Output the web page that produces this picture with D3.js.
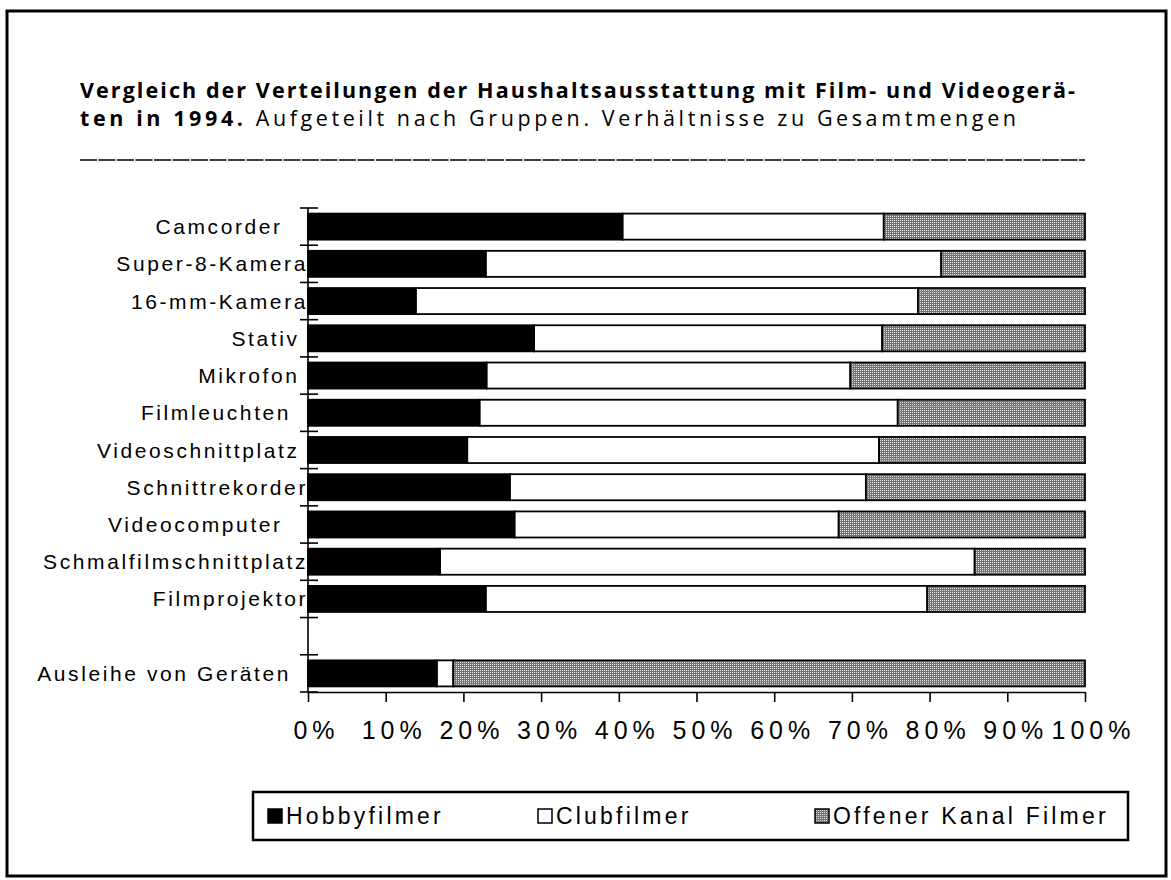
<!DOCTYPE html>
<html>
<head>
<meta charset="utf-8">
<script src="https://cdn.jsdelivr.net/npm/d3@7"></script>
<style>
  body { margin: 0; background: #fff; }
  svg { display: block; }
</style>
</head>
<body>
<div id="chart"></div>
<script>
// Data (percent of total per device)
const geraete = ["Camcorder", "Super-8-Kamera", "16-mm-Kamera", "Stativ", "Mikrofon",
    "Filmleuchten", "Videoschnittplatz", "Schnittrekorder", "Videocomputer",
    "Schmalfilmschnittplatz", "Filmprojektor", "Ausleihe von Geräten"];
const hobbyfilmer = [40.5, 22.9, 13.9, 29.1, 23.0, 22.1, 20.5, 26.0, 26.6, 17.0, 22.9, 16.6];
const clubfilmer  = [33.6, 58.6, 64.6, 44.8, 46.8, 53.8, 53.0, 45.8, 41.7, 68.8, 56.8, 2.1];
const offenerKanal = [25.9, 18.5, 21.5, 26.1, 30.2, 24.1, 26.5, 28.2, 31.7, 14.2, 20.3, 81.3];
const gruppen = ["Hobbyfilmer", "Clubfilmer", "Offener Kanal Filmer"];
const xTicks = [0, 10, 20, 30, 40, 50, 60, 70, 80, 90, 100];

const WIDTH = 1171;
const HEIGHT = 880;
const fontFamily = "'Liberation Sans', Arial, sans-serif";
const titleFont = "'Open Sans', sans-serif";

// trailing blanks the original labels carried (pushes them off the axis)
const labelTrail = { "Camcorder": 3, "Stativ": 1, "Mikrofon": 1, "Filmleuchten": 2,
    "Videoschnittplatz": 1, "Videocomputer": 3, "Ausleihe von Geräten": 2 };

const svg = d3.select("#chart").append("svg")
    .attr("width", WIDTH)
    .attr("height", HEIGHT);

// pattern for "Offener Kanal"
const defs = svg.append("defs");
const pat = defs.append("pattern")
    .attr("id", "dots")
    .attr("patternUnits", "userSpaceOnUse")
    .attr("width", 2)
    .attr("height", 2);
pat.append("rect").attr("width", 2).attr("height", 2).attr("fill", "#747474");
pat.append("rect").attr("width", 1).attr("height", 1).attr("fill", "#e0e0e0");

const fills = ["#000", "#fff", "url(#dots)"];

// outer frame
svg.append("rect")
    .attr("x", 7).attr("y", 11)
    .attr("width", 1159).attr("height", 865)
    .attr("fill", "none")
    .attr("stroke", "#000")
    .attr("stroke-width", 3);

// Title
svg.append("text")
    .attr("x", 80).attr("y", 98)
    .attr("font-family", titleFont)
    .attr("font-size", 21.5)
    .attr("font-weight", "bold")
    .attr("textLength", 995)
    .attr("lengthAdjust", "spacing")
    .text("Vergleich der Verteilungen der Haushaltsausstattung mit Film- und Videogerä-");

const sub = svg.append("text")
    .attr("x", 80).attr("y", 126)
    .attr("font-family", titleFont)
    .attr("font-size", 21.5)
    .attr("textLength", 936)
    .attr("lengthAdjust", "spacing");
sub.append("tspan").attr("font-weight", "bold").text("ten in 1994.");
sub.append("tspan").text(" Aufgeteilt nach Gruppen. Verhältnisse zu Gesamtmengen");

svg.append("line")
    .attr("x1", 80).attr("x2", 1085)
    .attr("y1", 160).attr("y2", 160)
    .attr("stroke", "#000")
    .attr("stroke-width", 1.6)
    .attr("stroke-dasharray", "17,1.5");

// Scales
const x = d3.scaleLinear().domain([0, 100]).range([308, 1085]);
const rows = geraete.slice(0, 11).concat([" "], geraete.slice(11));
const y = d3.scaleBand().domain(rows).range([208, 692]).paddingInner(0.3).paddingOuter(0.15);

const table = geraete.map((g, i) => ({
    geraet: g,
    Hobbyfilmer: hobbyfilmer[i],
    Clubfilmer: clubfilmer[i],
    "Offener Kanal Filmer": offenerKanal[i]
}));
const series = d3.stack().keys(gruppen)(table);

const plot = svg.append("g");
series.forEach((s, k) => {
    plot.append("g")
        .selectAll("rect")
        .data(s)
        .join("rect")
        .attr("x", d => x(d[0]))
        .attr("y", d => y(d.data.geraet))
        .attr("width", d => x(d[1]) - x(d[0]))
        .attr("height", y.bandwidth())
        .attr("fill", fills[k])
        .attr("stroke", "#000")
        .attr("stroke-width", 1.8);
});

// Y axis: line with crossing ticks at band boundaries
const step = y.step();
const y0 = 208;
svg.append("line")
    .attr("x1", 308).attr("x2", 308)
    .attr("y1", y0).attr("y2", y0 + step * rows.length)
    .attr("stroke", "#000").attr("stroke-width", 1.6);
svg.append("g").selectAll("line")
    .data(d3.range(rows.length + 1))
    .join("line")
    .attr("x1", 300).attr("x2", 318)
    .attr("y1", i => y0 + i * step)
    .attr("y2", i => y0 + i * step)
    .attr("stroke", "#000").attr("stroke-width", 1.6);

svg.append("g").selectAll("text")
    .data(geraete)
    .join("text")
    .attr("x", 308)
    .attr("y", d => y(d) + y.bandwidth() / 2)
    .attr("dy", "0.36em")
    .attr("text-anchor", "end")
    .attr("xml:space", "preserve")
    .style("white-space", "pre")
    .attr("font-family", fontFamily)
    .attr("font-size", 21)
    .attr("letter-spacing", 2.6)
    .text(d => d + " ".repeat(labelTrail[d] || 0));

// X axis
const xAxis = d3.axisBottom(x)
    .tickValues(xTicks)
    .tickSize(10)
    .tickSizeOuter(0)
    .tickFormat(d => d + "%");
const gx = svg.append("g")
    .attr("transform", `translate(0,${y0 + step * rows.length})`)
    .call(xAxis);
gx.select(".domain").attr("stroke-width", 1.6);
gx.selectAll(".tick line").attr("stroke-width", 1.6);
gx.selectAll(".tick text")
    .attr("y", 29)
    .attr("dy", "0.71em")
    .attr("dx", 8)
    .attr("font-family", fontFamily)
    .attr("font-size", 25)
    .attr("letter-spacing", 5)
    .attr("fill", "#000");

// Legend
const legend = svg.append("g");
legend.append("rect")
    .attr("x", 253).attr("y", 792)
    .attr("width", 875).attr("height", 48)
    .attr("fill", "#fff")
    .attr("stroke", "#000")
    .attr("stroke-width", 2.5);
const legendX = [268, 538, 815];
gruppen.forEach((g, k) => {
    legend.append("rect")
        .attr("x", legendX[k]).attr("y", 809)
        .attr("width", 14).attr("height", 14)
        .attr("fill", fills[k])
        .attr("stroke", "#000")
        .attr("stroke-width", 1.5);
    legend.append("text")
        .attr("x", legendX[k] + 18)
        .attr("y", 824)
        .attr("font-family", fontFamily)
        .attr("font-size", 23)
        .attr("letter-spacing", 3.2)
        .text(g);
});
</script>
</body>
</html>
